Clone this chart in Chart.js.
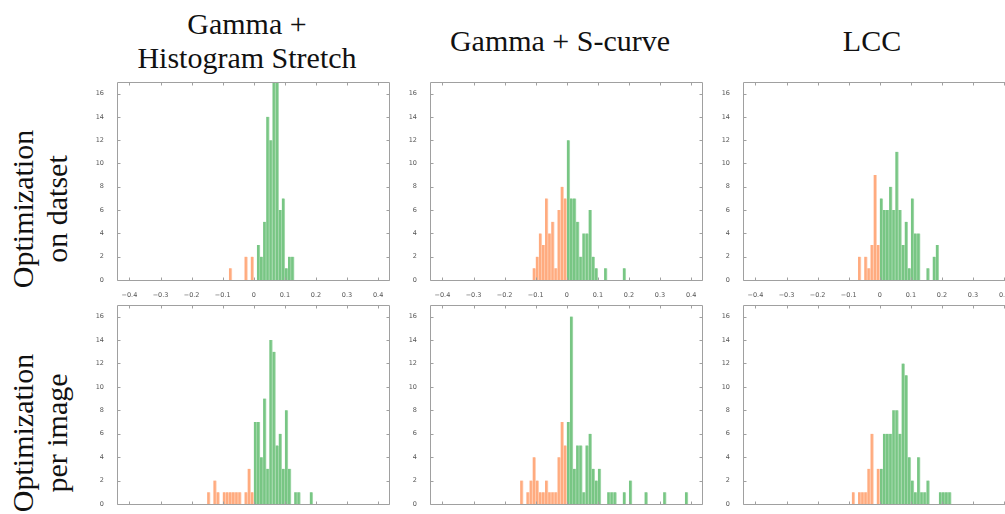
<!DOCTYPE html>
<html>
<head>
<meta charset="utf-8">
<script src="https://cdn.jsdelivr.net/npm/chart.js@4.4.1/dist/chart.umd.min.js"></script>
<style>
  html, body { margin: 0; padding: 0; background: #fff; }
  body { position: relative; width: 1005px; height: 514px; overflow: hidden; }
  canvas { position: absolute; }
  .title, .rowlabel {
    position: absolute;
    font-family: 'Liberation Serif', 'Times New Roman', serif;
    font-size: 30px;
    line-height: 34px;
    color: #111;
    text-align: center;
    white-space: nowrap;
  }
  .rowlabel { transform: rotate(-90deg); transform-origin: center center; }
</style>
</head>
<body>
<div class="title" style="left:97px; top:7px; width:300px;">Gamma +<br>Histogram Stretch</div>
<div class="title" style="left:410px; top:24px; width:300px;">Gamma + S-curve</div>
<div class="title" style="left:722px; top:24px; width:300px;">LCC</div>
<div class="rowlabel" style="left:-110px; top:175px; width:300px; height:68px;">Optimization<br>on datset</div>
<div class="rowlabel" style="left:-110px; top:399px; width:300px; height:68px;">Optimization<br>per image</div>

<script>
// histogram counts, one entry per 0.01-wide bin starting at the given left edge
const dsGammaHSFirst = -0.08;
const dsGammaHSCounts = [1, 0, 0, 0, 0, 2, 0, 2, 0, 3, 2, 5, 14, 12, 17, 17, 6, 7, 1, 2, 2];

const dsGammaSFirst = -0.11;
const dsGammaSCounts = [1, 2, 4, 3, 7, 4, 5, 1, 6, 8, 7, 12, 7, 7, 5, 2, 4, 4, 6, 2, 1, 0, 0, 1, 0, 0, 0, 0, 0, 1];

const dsLCCFirst = -0.07;
const dsLCCCounts = [2, 0, 2, 1, 3, 9, 3, 7, 6, 6, 8, 6, 11, 6, 3, 5, 1, 7, 4, 4, 0, 0, 1, 0, 2, 3];

const imGammaHSFirst = -0.15;
const imGammaHSCounts = [1, 0, 2, 1, 0, 1, 1, 1, 1, 1, 1, 0, 1, 3, 1, 7, 7, 4, 9, 3, 14, 13, 5, 6, 3, 8, 3, 0, 1, 1, 0, 0, 0, 1];

const imGammaSFirst = -0.15;
const imGammaSCounts = [2, 0, 1, 2, 4, 2, 1, 1, 2, 1, 1, 1, 4, 7, 5, 7, 16, 3, 5, 5, 1, 5, 6, 3, 2, 3,
  0, 0, 1, 1, 1, 0, 0, 1, 0, 2, 0, 0, 0, 0, 1, 0, 0, 0, 0, 0, 1, 0, 0, 0, 0, 0, 0, 1];

const imLCCFirst = -0.09;
const imLCCCounts = [1, 0, 1, 1, 1, 3, 6, 0, 3, 3, 6, 6, 6, 8, 8, 6, 12, 11, 4, 2, 1, 4, 1, 1, 2, 0, 0, 0, 1, 1, 1, 1];

const xTicks = [-0.4, -0.3, -0.2, -0.1, 0, 0.1, 0.2, 0.3, 0.4];
const yTicks = [0, 2, 4, 6, 8, 10, 12, 14, 16];

const lossColor = '#ffab7f';
const gainColor = '#78c684';

const plotW = 272;
const colLeft = [117, 430, 743];
const rowTop = [79, 302];
const rowH = [201, 202];

const panels = [
  { first: dsGammaHSFirst, counts: dsGammaHSCounts, row: 0, col: 0 },
  { first: dsGammaSFirst, counts: dsGammaSCounts, row: 0, col: 1 },
  { first: dsLCCFirst, counts: dsLCCCounts, row: 0, col: 2 },
  { first: imGammaHSFirst, counts: imGammaHSCounts, row: 1, col: 0 },
  { first: imGammaSFirst, counts: imGammaSCounts, row: 1, col: 1 },
  { first: imLCCFirst, counts: imLCCCounts, row: 1, col: 2 }
];

// axes box with short inward ticks on all four sides
const framePlugin = {
  id: 'frame',
  afterDatasetsDraw(chart) {
    const { ctx, chartArea: a, scales: { x, y } } = chart;
    const L = Math.round(a.left) + 0.5, R = Math.round(a.right) + 0.5;
    const T = Math.round(a.top) + 0.5, B = Math.round(a.bottom) + 0.5;
    ctx.save();
    ctx.strokeStyle = '#a0a0a0';
    ctx.lineWidth = 1;
    ctx.beginPath();
    ctx.rect(L, T, R - L, B - T);
    x.ticks.forEach(t => {
      const px = Math.round(x.getPixelForValue(t.value)) + 0.5;
      ctx.moveTo(px, B); ctx.lineTo(px, B - 3);
      ctx.moveTo(px, T); ctx.lineTo(px, T + 3);
    });
    y.ticks.forEach(t => {
      const py = Math.round(y.getPixelForValue(t.value)) + 0.5;
      ctx.moveTo(L, py); ctx.lineTo(L + 3, py);
      ctx.moveTo(R, py); ctx.lineTo(R - 3, py);
    });
    ctx.stroke();
    ctx.restore();
  }
};

function binPoints(first, counts, negative) {
  const pts = [];
  const start = Math.round(first * 100);
  counts.forEach((c, i) => {
    const center = (start + i + 0.5) / 100;
    if (c > 0 && (center < 0) === negative) pts.push({ x: center, y: c });
  });
  return pts;
}

function fmtX(v) {
  if (Math.abs(v) < 1e-9) return '0';
  return (v < 0 ? '\u2212' : '') + Math.abs(v).toFixed(1);
}

const tickFont = { family: 'DejaVu Sans', size: 6.5 };

panels.forEach(p => {
  const canvas = document.createElement('canvas');
  const w = 34 + plotW + 6;
  const h = 6 + rowH[p.row] + 22;
  canvas.width = w;
  canvas.height = h;
  canvas.style.left = (colLeft[p.col] - 34) + 'px';
  canvas.style.top = (rowTop[p.row] - 6) + 'px';
  document.body.appendChild(canvas);

  const barStyle = {
    barPercentage: 1,
    categoryPercentage: 1,
    borderWidth: { right: 1 },
    borderSkipped: 'bottom',
    grouped: false
  };

  new Chart(canvas.getContext('2d'), {
    type: 'bar',
    data: {
      datasets: [
        Object.assign({ label: 'worse', data: binPoints(p.first, p.counts, true),
          backgroundColor: lossColor, borderColor: '#ffd3bb' }, barStyle),
        Object.assign({ label: 'better', data: binPoints(p.first, p.counts, false),
          backgroundColor: gainColor, borderColor: '#acdcb3' }, barStyle)
      ]
    },
    options: {
      responsive: false,
      animation: false,
      layout: { padding: { top: 6, right: 6, left: 0, bottom: 0 } },
      plugins: { legend: { display: false }, tooltip: { enabled: false } },
      scales: {
        x: {
          type: 'linear',
          min: -0.44,
          max: 0.435,
          offset: false,
          grid: { display: false },
          border: { display: false },
          afterBuildTicks: s => { s.ticks = xTicks.map(v => ({ value: v })); },
          afterFit: s => { s.height = 22; },
          ticks: {
            autoSkip: false, maxRotation: 0, padding: 3,
            color: '#555', font: tickFont,
            callback: v => fmtX(v)
          }
        },
        y: {
          min: 0,
          max: 17,
          grid: { display: false },
          border: { display: false },
          afterBuildTicks: s => { s.ticks = yTicks.map(v => ({ value: v })); },
          afterFit: s => { s.width = 34; },
          ticks: { padding: 5, color: '#555', font: tickFont }
        }
      }
    },
    plugins: [framePlugin]
  });
});
</script>
</body>
</html>
